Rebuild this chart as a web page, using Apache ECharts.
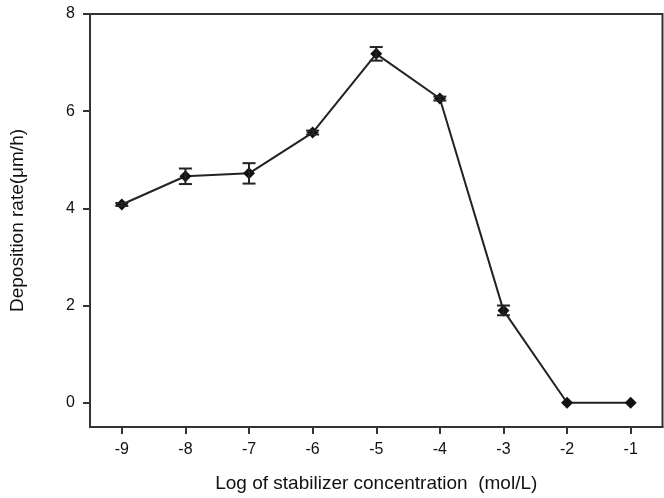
<!DOCTYPE html>
<html>
<head>
<meta charset="utf-8">
<script src="https://cdn.jsdelivr.net/npm/echarts@6/dist/echarts.min.js"></script>
<style>
html,body{margin:0;padding:0;background:#fff;}
#c{width:664px;height:498px;}
</style>
</head>
<body>
<div id="c"></div>
<script>
const xValues = [-9, -8, -7, -6, -5, -4, -3, -2, -1];
const rates   = [4.08, 4.66, 4.72, 5.56, 7.18, 6.26, 1.90, 0, 0];
const errors  = [0.03, 0.16, 0.21, 0.04, 0.14, 0.04, 0.10, 0, 0];
const xTicks  = [-9, -8, -7, -6, -5, -4, -3, -2, -1];
const yTicks  = [0, 2, 4, 6, 8];

const lineData = xValues.map((x, i) => [x, rates[i]]);
const errData = xValues.map((x, i) => [x, rates[i] - errors[i], rates[i] + errors[i]]);

const chart = echarts.init(document.getElementById('c'), null, {renderer: 'canvas'});
const font = 'Liberation Sans, Arial, sans-serif';
chart.setOption({
  animation: false,
  backgroundColor: '#fff',
  grid: {left: 87, right: 1.5, top: 14, bottom: 69.5, show: true, borderColor: '#333', borderWidth: 2, backgroundColor: 'transparent'},
  xAxis: {
    type: 'value', min: -9.5, max: -0.5,
    name: 'Log of stabilizer concentration  (mol/L)',
    nameLocation: 'middle', nameGap: 47,
    nameTextStyle: {fontFamily: font, fontSize: 19, color: '#111'},
    axisLine: {show: true, onZero: false, lineStyle: {color: '#333', width: 2}},
    axisTick: {show: true, customValues: xTicks, length: 7, lineStyle: {color: '#333', width: 2}},
    axisLabel: {customValues: xTicks, fontFamily: font, fontSize: 16, color: '#111', margin: 15},
    splitLine: {show: false}
  },
  yAxis: {
    type: 'value', min: -0.5, max: 8,
    name: 'Deposition rate(μm/h)',
    nameLocation: 'middle', nameGap: 63,
    nameTextStyle: {fontFamily: font, fontSize: 19, color: '#111'},
    axisLine: {show: true, onZero: false, lineStyle: {color: '#333', width: 2}},
    axisTick: {show: true, customValues: yTicks, length: 7, lineStyle: {color: '#333', width: 2}},
    axisLabel: {customValues: yTicks, fontFamily: font, fontSize: 16, color: '#111', margin: 15},
    splitLine: {show: false}
  },
  series: [
    {
      type: 'line', data: lineData,
      symbol: 'diamond', symbolSize: 12,
      lineStyle: {color: '#222', width: 2},
      itemStyle: {color: '#111'},
      z: 3
    },
    {
      type: 'custom', data: errData, z: 4,
      renderItem: function (params, api) {
        const x = api.value(0);
        const lo = api.coord([x, api.value(1)]);
        const hi = api.coord([x, api.value(2)]);
        if (Math.abs(hi[1] - lo[1]) < 1) return null;
        const hw = 6.5;
        const style = {stroke: '#222', lineWidth: 2};
        return {
          type: 'group',
          children: [
            {type: 'line', shape: {x1: lo[0], y1: lo[1], x2: hi[0], y2: hi[1]}, style: style},
            {type: 'line', shape: {x1: lo[0] - hw, y1: lo[1], x2: lo[0] + hw, y2: lo[1]}, style: style},
            {type: 'line', shape: {x1: hi[0] - hw, y1: hi[1], x2: hi[0] + hw, y2: hi[1]}, style: style}
          ]
        };
      }
    }
  ]
});
</script>
</body>
</html>
